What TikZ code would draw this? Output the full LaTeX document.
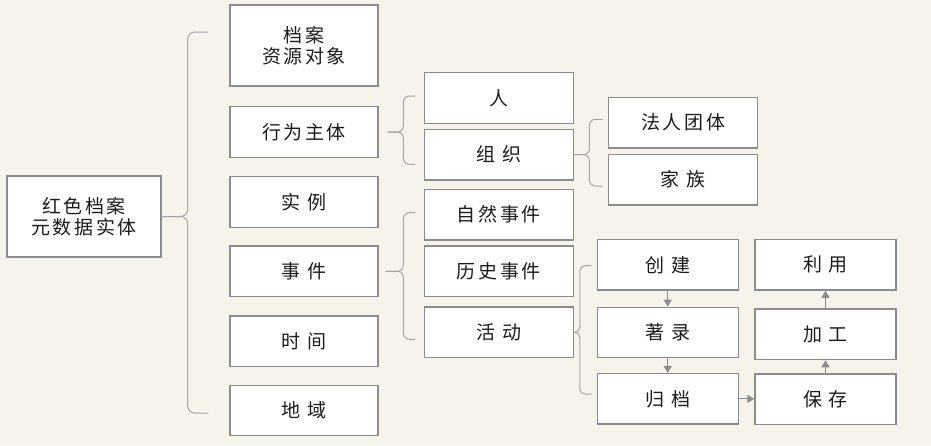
\documentclass[tikz,border=0pt]{standalone}
\usepackage{fontspec}
\newfontfamily\cjk[LetterSpace=14]{Noto Sans CJK SC}
\usepackage{tikz}
\usetikzlibrary{positioning, arrows.meta, calc}
\definecolor{paper}{RGB}{246, 243, 234}
\definecolor{frame}{RGB}{140, 140, 140}
\definecolor{twig}{RGB}{165, 165, 165}
\definecolor{ink}{RGB}{28, 28, 28}
\tikzset{
  entity/.style={
    draw=frame, line width=1.4pt, fill=white,
    inner sep=0pt, minimum height=50.5pt,
    align=center, text=ink,
    font=\cjk\fontsize{19}{21.5}\selectfont,
  },
  lvlA/.style={entity, minimum width=148pt},
  lvlB/.style={entity, minimum width=149pt},
  lvlC/.style={entity, minimum width=141pt},
  fork/.style={draw=twig, line width=1pt, rounded corners=6pt},
  flow/.style={draw=frame, line width=1pt, -{Triangle[length=7pt, width=8pt]}},
}

\begin{document}
\begin{tikzpicture}[x=1pt, y=-1pt]

\fill[paper] (0,0) rectangle (931,445);

% root and first level
\node[entity, minimum width=154pt, minimum height=81pt] (root) at (84,216.5) {红色档案\\元数据实体};
\node[lvlA, minimum height=81pt] (doc) at (304,45.5) {档案\\资源对象};
\node[lvlA] (actor) at (304,132) {行为主体};
\node[lvlA] (inst) at (304,202) {实 例};
\node[lvlA] (event) at (304,271.3) {事 件};
\node[lvlA] (time) at (304,341.3) {时 间};
\node[lvlA] (place) at (304,410.5) {地 域};

% second level
\node[lvlB] (person) at (498.7,98) {人};
\node[lvlB] (org) at (498.7,154.7) {组 织};
\node[lvlB] (nat) at (498.7,214.7) {自然事件};
\node[lvlB] (hist) at (498.7,271.3) {历史事件};
\node[lvlB] (act) at (498.7,332.3) {活 动};

% third level
\node[lvlB] (legal) at (683.2,122.7) {法人团体};
\node[lvlB] (family) at (683.2,179.7) {家 族};
\node[lvlC] (create) at (667.7,264.8) {创 建};
\node[lvlC] (catalog) at (667.7,332.5) {著 录};
\node[lvlC] (archive) at (667.7,398.9) {归 档};
\node[lvlC] (use) at (825.5,264.8) {利 用};
\node[lvlC] (refine) at (825.5,334.3) {加 工};
\node[lvlC] (keep) at (825.5,399.3) {保 存};

% braces
\coordinate (b1mid) at ([xshift=26pt]root.east);
\coordinate (b1top) at (208,32);
\coordinate (b1bot) at (208,413);
\draw[fork, rounded corners=7pt] (root.east) -- (b1mid) |- (b1top);
\draw[fork, rounded corners=7pt] (root.east) -- (b1mid) |- (b1bot);

\coordinate (b2mid) at ([xshift=24.7pt]actor.east);
\coordinate (b2top) at (415,96);
\coordinate (b2bot) at (415,164.3);
\draw[fork] ([xshift=9pt]actor.east) -- (b2mid) |- (b2top);
\draw[fork] ([xshift=9pt]actor.east) -- (b2mid) |- (b2bot);

\coordinate (b3mid) at ([xshift=15.5pt]org.east);
\coordinate (b3top) at (602.7,119.3);
\coordinate (b3bot) at (602.7,186);
\draw[fork] (org.east) -- (b3mid) |- (b3top);
\draw[fork] (org.east) -- (b3mid) |- (b3bot);

\coordinate (b4mid) at ([xshift=24.7pt]event.east);
\coordinate (b4top) at (415,212.7);
\coordinate (b4bot) at (415,339.3);
\draw[fork] ([xshift=7pt]event.east) -- (b4mid) |- (b4top);
\draw[fork] ([xshift=7pt]event.east) -- (b4mid) |- (b4bot);

\coordinate (b5mid) at ([xshift=6pt]act.east);
\coordinate (b5top) at (591.7,265.7);
\coordinate (b5bot) at (591.7,394);
\draw[fork, rounded corners=5pt] (act.east) -- (b5mid) |- (b5top);
\draw[fork, rounded corners=5pt] (act.east) -- (b5mid) |- (b5bot);

% life cycle
\draw[flow] (create) -- (catalog);
\draw[flow] (catalog) -- (archive);
\draw[flow] (archive.east) -- (archive.east -| keep.west);
\draw[flow] (keep) -- (refine);
\draw[flow] (refine) -- (use);

\end{tikzpicture}
\end{document}
